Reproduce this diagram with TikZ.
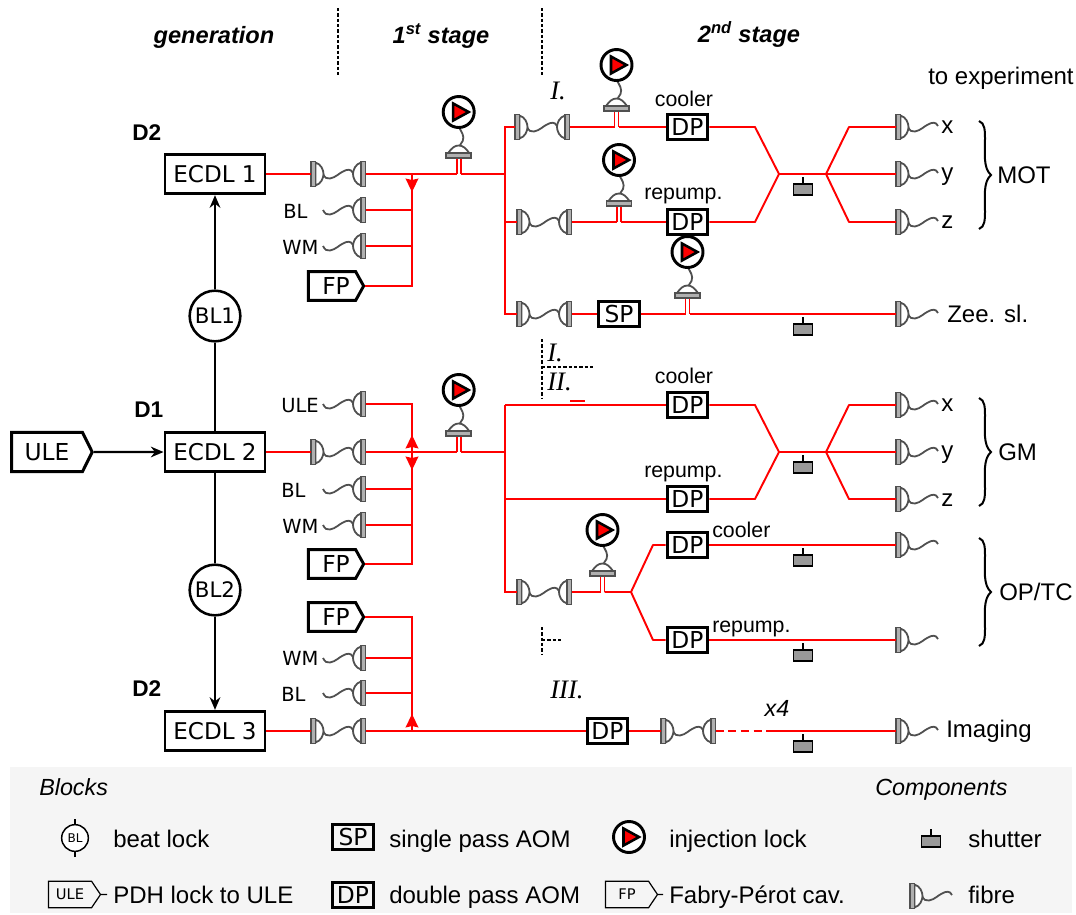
\documentclass[tikz,border=0pt]{standalone}
\usepackage{fontspec}
\usetikzlibrary{arrows.meta,shapes.symbols}
\newfontfamily\dvf{DejaVu Sans}
\newfontfamily\lsf{Liberation Sans}
\newfontfamily\lrf{Liberation Serif}
\definecolor{legendbg}{HTML}{F5F5F5}
\definecolor{fibgrey}{HTML}{505050}
\definecolor{barfill}{HTML}{B0B0B0}
\tikzset{
  x=0.75pt,y=-0.75pt,
  beam/.style={draw=red,line width=1.45pt},
  beamhead/.style={beam,-{Stealth[length=10pt,width=9.5pt,inset=1pt]}},
  link/.style={draw=black,line width=1.8pt},
  linkhead/.style={link,-{Stealth[length=9.5pt,width=8pt]}},
  ecdl/.style={draw,line width=2.2pt,minimum width=75pt,minimum height=29.5pt,inner sep=0pt,font=\dvf\fontsize{17.3}{20}\selectfont},
  aom/.style={draw,fill=white,line width=2.2pt,minimum width=30.5pt,minimum height=18.5pt,inner sep=0pt,font=\dvf\fontsize{17.5}{20}\selectfont},
  beat/.style={circle,draw,fill=white,line width=1.9pt,minimum size=38pt,inner sep=0pt,font=\dvf\fontsize{16}{18}\selectfont},
  tagbig/.style={shape=signal,signal to=east,signal from=nowhere,signal pointer angle=127,draw,fill=white,line width=2.2pt,minimum width=60.5pt,minimum height=29.5pt,inner sep=0pt,font=\dvf\fontsize{17.5}{20}\selectfont},
  tagfp/.style={tagbig,signal pointer angle=122,minimum width=41.5pt,minimum height=21.5pt},
  tagsmall/.style={shape=signal,signal to=east,signal from=nowhere,signal pointer angle=112,draw,line width=0.9pt,minimum width=39pt,minimum height=20pt,inner sep=0pt,font=\dvf\fontsize{11}{13}\selectfont},
  lab/.style={anchor=base west,inner sep=0pt,font=\lsf\fontsize{18}{21}\selectfont},
  labsm/.style={anchor=base west,inner sep=0pt,font=\lsf\fontsize{16}{19}\selectfont},
  dvlab/.style={anchor=base west,inner sep=0pt,font=\dvf\fontsize{14.6}{17}\selectfont},
  bold/.style={anchor=base west,inner sep=0pt,font=\lsf\bfseries\fontsize{17}{20}\selectfont},
  stage/.style={anchor=base,inner sep=0pt,font=\lsf\bfseries\itshape\fontsize{17.7}{21}\selectfont},
  ital/.style={anchor=base west,inner sep=0pt,font=\lsf\itshape\fontsize{17.5}{20}\selectfont},
  roman/.style={anchor=base west,inner sep=0pt,font=\lrf\itshape\fontsize{20}{23}\selectfont},
  divider/.style={draw=black,line width=1.2pt,dash pattern=on 2.4pt off 1.6pt},
  couplerline/.style={draw=fibgrey,line width=1.35pt},
  pics/couplerleft/.style={code={
    \draw[couplerline,fill=white] (4.5,-11.5) .. controls (10,-10) and (12.5,-4) .. (12.5,0) .. controls (12.5,4) and (10,10) .. (4.5,11.5) -- cycle;
    \draw[couplerline,fill=barfill] (0,-12.5) rectangle (4.5,12.5);
  }},
  pics/couplerright/.style={code={
    \draw[couplerline,fill=white] (0,-11.5) .. controls (-5.5,-10) and (-8,-4) .. (-8,0) .. controls (-8,4) and (-5.5,10) .. (0,11.5) -- cycle;
    \draw[couplerline,fill=barfill] (0,-12.5) rectangle (4.5,12.5);
  }},
  pics/fibrewave/.style={code={
    \draw[couplerline] (12,0) .. controls (14,4) and (16,5) .. (19,4.5) .. controls (25,3.5) and (28,-1) .. (33,-3) .. controls (36,-4.5) and (40,-5.5) .. (42,-1);
  }},
  pics/fibrepair/.style={code={
    \coordinate (-in) at (0,0);
    \coordinate (-out) at (54.5,0);
    \pic at (0,0) {fibrewave};
    \pic at (0,0) {couplerleft};
    \pic at (50,0) {couplerright};
  }},
  pics/fibrestub/.style={code={
    \coordinate (-out) at (54.5,0);
    \pic at (0,0) {fibrewave};
    \pic at (50,0) {couplerright};
  }},
  pics/fibreend/.style={code={
    \coordinate (-in) at (0,0);
    \pic at (0,0) {fibrewave};
    \pic at (0,0) {couplerleft};
  }},
  pics/injhead/.style={code={
    \draw[black,line width=2.2pt,fill=white] (0,0) circle (15.5);
    \draw[black,line width=1.9pt,fill=red,line join=miter] (-5.5,-8.5) -- (10,0) -- (-5.5,8.5) -- cycle;
  }},
  pics/injection/.style={code={
    \coordinate (-l) at (-2,0);
    \coordinate (-r) at (2,0);
    \draw[beam] (-2,-16) -- (-2,0);
    \draw[beam] (2,-16) -- (2,0);
    \draw[couplerline] (0,-47) .. controls (3,-42) and (6,-38) .. (4,-33) .. controls (3,-30) and (1,-30) .. (1,-28);
    \draw[couplerline,fill=white] (-10.5,-21) .. controls (-7,-26) and (-4,-28.5) .. (0,-28.5) .. controls (4,-28.5) and (7,-26) .. (10.5,-21) -- cycle;
    \draw[couplerline,fill=barfill] (-12.5,-21) rectangle (12.5,-16);
    \pic at (0,-62) {injhead};
  }},
  pics/shutterunit/.style={code={
    \draw[black,line width=1.1pt] (0,3) -- (0,10);
    \draw[black,line width=1.3pt,fill=gray!80] (-9.5,10) rectangle (9.5,21);
  }},
  pics/bracket/.style={code={
    \draw[black,line width=1.5pt] (-12,-54) .. controls (-6,-52) and (-6,-44) .. (-6,-36) .. controls (-6,-22) and (-8,-7) .. (0,0) .. controls (-8,7) and (-6,22) .. (-6,36) .. controls (-6,44) and (-6,52) .. (-12,54);
  }},
}
\begin{document}
\begin{tikzpicture}
\useasboundingbox (0,0) rectangle (1076,915);
\fill[white] (0,0) rectangle (1076,915);
\fill[legendbg] (10,767) rectangle (1072,913);

% headings
\node[stage] (hgen) at (214,43) {generation};
\node[stage] (hone) at (441,43) {1\textsuperscript{st} stage};
\node[stage] (htwo) at (749,42) {2\textsuperscript{nd} stage};
\node[lab] (toexp) at (928,84) {to experiment};
\coordinate (d1a) at (338,8); \coordinate (d1b) at (338,76);
\coordinate (d2a) at (542,8); \coordinate (d2b) at (542,76);
\coordinate (d3a) at (542,339); \coordinate (d3b) at (542,398);
\coordinate (d4a) at (542,367); \coordinate (d4b) at (593,367);
\coordinate (d5a) at (542,627); \coordinate (d5b) at (542,655);
\coordinate (d6a) at (542,640); \coordinate (d6b) at (562,640);
\draw[divider] (d1a) -- (d1b);
\draw[divider] (d2a) -- (d2b);
\draw[divider] (d3a) -- (d3b);
\draw[divider] (d4a) -- (d4b);
\draw[divider] (d5a) -- (d5b);
\draw[divider] (d6a) -- (d6b);
\node[roman] (r1) at (550,99) {I.};
\node[roman] (r2) at (547,361) {I.};
\node[roman] (r3) at (547,390) {II.};
\node[roman] (r4) at (550,698) {III.};

% lasers
\node[ecdl] (e1) at (215,174) {ECDL 1};
\node[ecdl] (e2) at (215,452) {ECDL 2};
\node[ecdl] (e3) at (215,731) {ECDL 3};
\node[beat] (bl1) at (215,316) {BL1};
\node[beat] (bl2) at (215,590) {BL2};
\node[tagbig] (ule) at (47,452) {ULE};
\node[bold] (dtop) at (132,140) {D2};
\node[bold] (dmid) at (134,417) {D1};
\node[bold] (dbot) at (132,696) {D2};
\draw[link] (e2) -- (bl1);
\draw[linkhead] (bl1) -- (e1);
\draw[link] (e2) -- (bl2);
\draw[linkhead] (bl2) -- (e3);
\draw[linkhead] (ule) -- (e2);

% ---- stage I
\pic (f1) at (311,174) {fibrepair};
\pic (s1a) at (311,210) {fibrestub};
\pic (s1b) at (311,246) {fibrestub};
\node[tagfp] (fp1) at (332,286) {\hspace*{6pt}FP};
\node[dvlab] (tbl1) at (283,218) {BL};
\node[dvlab] (twm1) at (282,254) {WM};
\pic (il1) at (458.7,174) {injection};
\coordinate (j1) at (412,174);
\coordinate (h1) at (412,192);
\coordinate (j1b) at (412,210);
\coordinate (j1c) at (412,246);
\coordinate (j1d) at (412,286);
\coordinate (t1) at (505,174);
\draw[beam] (e1) -- (f1-in);
\draw[beam] (f1-out) -- (il1-l);
\draw[beam] (il1-r) -- (t1);
\draw[beam] (j1) -- (j1d) -- (fp1);
\draw[beamhead] (j1) -- (h1);
\draw[beam] (s1a-out) -- (j1b);
\draw[beam] (s1b-out) -- (j1c);

\pic (f2) at (515,127) {fibrepair};
\pic (f3) at (517,222) {fibrepair};
\pic (f4) at (517,314) {fibrepair};
\coordinate (c1) at (505,127);
\coordinate (c2) at (505,222);
\coordinate (c3) at (505,314);
\draw[beam] (f2-in) -- (c1) -- (c3) -- (f4-in);
\draw[beam] (c2) -- (f3-in);
\pic (il2) at (616.5,127) {injection};
\pic (il3) at (619,222) {injection};
\pic (il4) at (687.5,314) {injection};
\node[aom] (dp1) at (687.5,127) {DP};
\node[aom] (dp2) at (687.5,222) {DP};
\node[aom] (sp1) at (619,314) {SP};
\node[labsm,anchor=base] (lc1) at (684,106) {cooler};
\node[labsm] (lr1) at (644,199) {repump.};
\coordinate (a1) at (755,127);
\coordinate (a2) at (755,222);
\coordinate (m1) at (779,174);
\coordinate (m2) at (826,174);
\coordinate (o1) at (849,127);
\coordinate (o2) at (849,222);
\pic (fx1) at (896,127) {fibreend};
\pic (fy1) at (896,174) {fibreend};
\pic (fz1) at (896,222) {fibreend};
\pic (fzs) at (896,314) {fibreend};
\draw[beam] (f2-out) -- (il2-l);
\draw[beam] (il2-r) -- (dp1);
\draw[beam] (f3-out) -- (il3-l);
\draw[beam] (il3-r) -- (dp2);
\draw[beam] (f4-out) -- (sp1);
\draw[beam] (sp1) -- (il4-l);
\draw[beam] (il4-r) -- (fzs-in);
\draw[beam,line join=round] (dp1) -- (a1) -- (m1) -- (a2) -- (dp2);
\draw[beam] (m1) -- (m2) -- (fy1-in);
\draw[beam,line join=round] (fx1-in) -- (o1) -- (m2) -- (o2) -- (fz1-in);
\pic at (803,174) {shutterunit};
\pic at (803,314) {shutterunit};
\node[lab] (lx1) at (941,133) {x};
\node[lab] (ly1) at (941,180) {y};
\node[lab] (lz1) at (941,228) {z};
\node[lab] (lzs) at (947,322) {Zee. sl.};
\pic at (991,175) {bracket};
\node[lab] (lmot) at (997,183) {MOT};

% ---- stage II
\pic (s2u) at (311,404) {fibrestub};
\pic (f5) at (311,452) {fibrepair};
\pic (s2a) at (311,489) {fibrestub};
\pic (s2b) at (311,525) {fibrestub};
\node[tagfp] (fp2) at (332,564) {\hspace*{6pt}FP};
\node[dvlab] (tul) at (281,412) {ULE};
\node[dvlab] (tbl2) at (281,497) {BL};
\node[dvlab] (twm2) at (282,533) {WM};
\pic (il5) at (458.7,452) {injection};
\coordinate (j2u) at (412,404);
\coordinate (j2) at (412,452);
\coordinate (h2u) at (412,435);
\coordinate (h2d) at (412,470);
\coordinate (j2b) at (412,489);
\coordinate (j2c) at (412,525);
\coordinate (j2d) at (412,564);
\coordinate (t2) at (505,452);
\draw[beam] (e2) -- (f5-in);
\draw[beam] (f5-out) -- (il5-l);
\draw[beam] (il5-r) -- (t2);
\draw[beam] (s2u-out) -- (j2u) -- (j2d) -- (fp2);
\draw[beamhead] (j2) -- (h2u);
\draw[beamhead] (j2) -- (h2d);
\draw[beam] (s2a-out) -- (j2b);
\draw[beam] (s2b-out) -- (j2c);

\pic (f6) at (517,592) {fibrepair};
\coordinate (c4) at (505,405);
\coordinate (c5) at (505,499);
\coordinate (c6) at (505,592);
\draw[beam] (f6-in) -- (c6) -- (c4);
\node[aom] (dp3) at (687.5,405) {DP};
\node[aom] (dp4) at (687.5,499) {DP};
\node[aom] (dp5) at (687.5,545) {DP};
\node[aom] (dp6) at (687.5,640) {DP};
\draw[beam] (c4) -- (dp3);
\draw[beam] (c5) -- (dp4);
\coordinate (q1) at (570,401); \coordinate (q2) at (585,401);
\draw[beam] (q1) -- (q2);
\node[labsm,anchor=base] (lc2) at (684,383) {cooler};
\node[labsm] (lr2) at (644,477) {repump.};
\coordinate (a3) at (755,405);
\coordinate (a4) at (755,499);
\coordinate (m3) at (779,452);
\coordinate (m4) at (826,452);
\coordinate (o3) at (849,405);
\coordinate (o4) at (849,499);
\pic (fx2) at (896,405) {fibreend};
\pic (fy2) at (896,452) {fibreend};
\pic (fz2) at (896,499) {fibreend};
\draw[beam,line join=round] (dp3) -- (a3) -- (m3) -- (a4) -- (dp4);
\draw[beam] (m3) -- (m4) -- (fy2-in);
\draw[beam,line join=round] (fx2-in) -- (o3) -- (m4) -- (o4) -- (fz2-in);
\pic at (803,452) {shutterunit};
\node[lab] (lx2) at (941,411) {x};
\node[lab] (ly2) at (941,458) {y};
\node[lab] (lz2) at (941,506) {z};
\pic at (991,452) {bracket};
\node[lab] (lgm) at (998,460) {GM};

\pic (il6) at (602.5,592) {injection};
\coordinate (b1) at (631,592);
\coordinate (b2) at (653,545);
\coordinate (b3) at (653,640);
\pic (fo1) at (896,545) {fibreend};
\pic (fo2) at (896,640) {fibreend};
\draw[beam] (f6-out) -- (il6-l);
\draw[beam,line join=round] (il6-r) -- (b1) -- (b2) -- (dp5);
\draw[beam,line join=round] (b1) -- (b3) -- (dp6);
\draw[beam] (dp5) -- (fo1-in);
\draw[beam] (dp6) -- (fo2-in);
\node[labsm] (lc3) at (712,537) {cooler};
\node[labsm] (lr3) at (712,632) {repump.};
\pic at (803,545) {shutterunit};
\pic at (803,640) {shutterunit};
\pic at (991,592) {bracket};
\node[lab] (lop) at (999,600) {OP/TC};

% ---- stage III
\node[tagfp] (fp3) at (332,617) {\hspace*{6pt}FP};
\pic (s3a) at (311,658) {fibrestub};
\pic (s3b) at (311,693) {fibrestub};
\pic (f7) at (311,731) {fibrepair};
\pic (f8) at (661,731) {fibrepair};
\pic (fim) at (896,731) {fibreend};
\node[dvlab] (twm3) at (282,665) {WM};
\node[dvlab] (tbl3) at (281,701) {BL};
\node[aom] (dp7) at (607.5,731) {DP};
\coordinate (j3) at (412,731);
\coordinate (h3) at (412,714);
\coordinate (j3t) at (412,617);
\coordinate (j3a) at (412,658);
\coordinate (j3b) at (412,693);
\coordinate (k1) at (770,731);
\draw[beam] (e3) -- (f7-in);
\draw[beam] (f7-out) -- (dp7);
\draw[beam] (dp7) -- (f8-in);
\draw[beam] (fp3) -- (j3t) -- (j3);
\draw[beamhead] (j3) -- (h3);
\draw[beam] (s3a-out) -- (j3a);
\draw[beam] (s3b-out) -- (j3b);
\draw[beam,dash pattern=on 6pt off 3.5pt] (f8-out) -- (k1);
\draw[beam] (k1) -- (fim-in);
\pic at (803,731) {shutterunit};
\node[ital,anchor=base] (lx4) at (777,716) {x4};
\node[lab] (lim) at (946,737) {Imaging};

% ---- legend
\node[ital] (lblocks) at (39,795) {Blocks};
\node[ital] (lcomp) at (875,795) {Components};
\node[circle,draw,line width=1.1pt,fill=white,minimum size=20pt,inner sep=0pt,font=\dvf\fontsize{9}{11}\selectfont] (lbl) at (75,838) {BL};
\coordinate (lblt) at (75,819);
\coordinate (lblb) at (75,857);
\draw[black,line width=0.8pt] (lblt) -- (lbl);
\draw[black,line width=0.8pt] (lblb) -- (lbl);
\node[lab] (tbeat) at (113,847) {beat lock};
\node[aom,fill=none] (lsp) at (353,837) {SP};
\node[lab] (tsp) at (389,847) {single pass AOM};
\pic at (629,837) {injhead};
\node[lab] (tinj) at (669,847) {injection lock};
\pic at (931,826) {shutterunit};
\node[lab] (tsh) at (968,847) {shutter};
\node[tagsmall] (lule) at (70,894.5) {ULE};
\coordinate (lulet) at (107,894.5);
\draw[black,line width=0.8pt] (lule) -- (lulet);
\node[lab] (tpdh) at (113,903) {PDH lock to ULE};
\node[aom,fill=none] (ldp) at (353,895) {DP};
\node[lab] (tdp) at (389,903) {double pass AOM};
\node[tagsmall] (lfp) at (627,894.5) {FP};
\coordinate (lfpt) at (663,894.5);
\draw[black,line width=0.8pt] (lfp) -- (lfpt);
\node[lab] (tfp) at (669,903) {Fabry-Pérot cav.};
\pic at (910,896) {fibreend};
\node[lab] (tfib) at (968,903) {fibre};
\end{tikzpicture}
\end{document}
